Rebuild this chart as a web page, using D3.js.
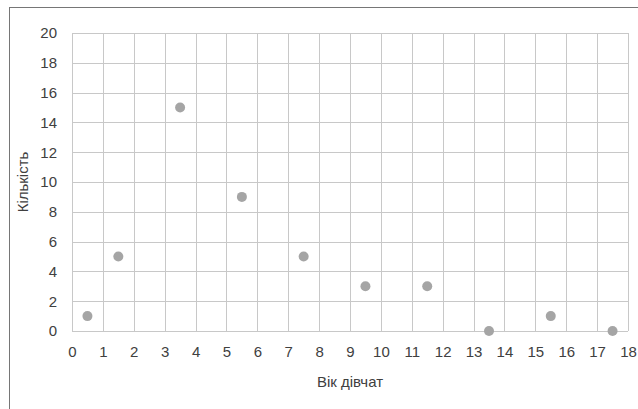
<!DOCTYPE html>
<html>
<head>
<meta charset="utf-8">
<script src="https://cdn.jsdelivr.net/npm/d3@7"></script>
<style>
  body { margin: 0; background: #fff; }
  text { font-family: "Liberation Sans", Arial, sans-serif; fill: #404040; }
</style>
</head>
<body>
<svg id="chart" width="638" height="409"></svg>
<script>
// data
const ages = [0.5, 1.5, 3.5, 5.5, 7.5, 9.5, 11.5, 13.5, 15.5, 17.5];
const counts = [1, 5, 15, 9, 5, 3, 3, 0, 1, 0];
const xTicks = d3.range(0, 19, 1);
const yTicks = d3.range(0, 21, 2);
const xTitle = "Вік дівчат";
const yTitle = "Кількість";

const width = 638;
const height = 409;
const margin = { top: 33, right: 10, bottom: 78, left: 72 };

const svg = d3.select("#chart");

// outer chart border
svg.append("rect")
  .attr("x", 9.5)
  .attr("y", 7.5)
  .attr("width", 700)
  .attr("height", 500)
  .attr("fill", "none")
  .attr("stroke", "#767676")
  .attr("stroke-width", 1);

const xScale = d3.scaleLinear()
  .domain([0, 18])
  .range([margin.left, width - margin.right]);

const yScale = d3.scaleLinear()
  .domain([0, 20])
  .range([height - margin.bottom, margin.top]);

// grid lines
svg.append("g")
  .selectAll("line")
  .data(xTicks)
  .enter()
  .append("line")
  .attr("x1", d => Math.round(xScale(d)) + 0.5)
  .attr("x2", d => Math.round(xScale(d)) + 0.5)
  .attr("y1", yScale(20))
  .attr("y2", yScale(0))
  .attr("stroke", "#c8c8c8");

svg.append("g")
  .selectAll("line")
  .data(yTicks)
  .enter()
  .append("line")
  .attr("x1", xScale(0))
  .attr("x2", xScale(18))
  .attr("y1", d => Math.round(yScale(d)) + 0.5)
  .attr("y2", d => Math.round(yScale(d)) + 0.5)
  .attr("stroke", "#c8c8c8");

// x axis
const xAxis = d3.axisBottom(xScale).tickValues(xTicks).tickSize(0).tickPadding(15);
svg.append("g")
  .attr("transform", `translate(0, ${yScale(0)})`)
  .call(xAxis)
  .call(g => g.select(".domain").remove())
  .call(g => g.selectAll("text").style("font-size", "15px").attr("fill", "#404040"));

// y axis
const yAxis = d3.axisLeft(yScale).tickValues(yTicks).tickSize(0).tickPadding(15);
svg.append("g")
  .attr("transform", `translate(${xScale(0)}, 0)`)
  .call(yAxis)
  .call(g => g.select(".domain").remove())
  .call(g => g.selectAll("text").style("font-size", "15px").attr("fill", "#404040"));

// axis titles
svg.append("text")
  .attr("x", (xScale(0) + xScale(18)) / 2)
  .attr("y", 387)
  .attr("text-anchor", "middle")
  .style("font-size", "15px")
  .text(xTitle);

svg.append("text")
  .attr("transform", "rotate(-90)")
  .attr("x", -(yScale(0) + yScale(20)) / 2)
  .attr("y", 28)
  .attr("text-anchor", "middle")
  .style("font-size", "15px")
  .text(yTitle);

// points
svg.append("g")
  .selectAll("circle")
  .data(ages)
  .enter()
  .append("circle")
  .attr("cx", d => xScale(d))
  .attr("cy", (d, i) => yScale(counts[i]))
  .attr("r", 5)
  .style("fill", "#a5a5a5");
</script>
</body>
</html>
